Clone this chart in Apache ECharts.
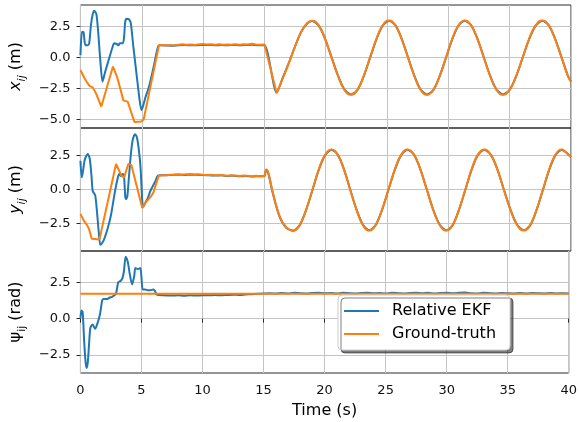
<!DOCTYPE html>
<html>
<head>
<meta charset="utf-8">
<script src="https://cdn.jsdelivr.net/npm/echarts@6/dist/echarts.min.js"></script>
<style>html,body{margin:0;padding:0;background:#fff;}#c{width:580px;height:422px;}</style>
</head>
<body>
<div id="c"></div>
<script>
// ---- data (time in s, value) ----
const xTicks = [0, 5, 10, 15, 20, 25, 30, 35, 40];
const yTicksTop = [-5, -2.5, 0, 2.5];
const yTicksMid = [-2.5, 0, 2.5];
const yTicksBot = [-2.5, 0, 2.5];

// x_ij ground truth (piecewise-linear part, then smooth sinusoid part)
const xGtEarly = [[0,-1.0],[0.3,-1.6],[0.5,-1.95],[0.75,-2.3],[1.0,-2.4],[1.25,-2.85],[1.7,-3.95],[2.65,-0.72],[3.0,-1.6],[3.5,-3.45],[3.85,-3.55],[4.4,-5.2],[4.95,-5.15],[5.15,-5.0],[6.4,1.0],[6.7,1.03],[7.0,0.99],[7.3,1.02],[7.6,1.0],[8.0,1.05],[8.3,1.08],[8.6,1.04],[9.0,1.06],[9.3,1.03],[9.6,1.07],[10.0,1.1],[10.3,1.06],[10.6,1.08],[11.0,1.05],[11.3,1.08],[11.6,1.05],[12.0,1.07],[12.3,1.05],[12.6,1.09],[13.0,1.05],[13.3,1.08],[13.6,1.06],[14.0,1.12],[14.3,1.07],[14.6,1.05],[15.0,1.06],[16.0,-2.87]];
const xGtLate = [[16.0,-2.87],[16.5,-1.66],[17.0,-0.43],[17.5,0.89],[18.0,2.1],[18.5,2.8],[18.9,2.98],[19.43,2.6],[19.95,1.5],[20.48,0],[21.01,-1.5],[21.53,-2.6],[22.06,-3.0],[22.58,-2.6],[23.09,-1.5],[23.61,0],[24.13,1.5],[24.64,2.6],[25.16,3.0],[25.68,2.6],[26.19,1.5],[26.71,0],[27.23,-1.5],[27.74,-2.6],[28.26,-3.0],[28.77,-2.6],[29.28,-1.5],[29.8,0],[30.31,1.5],[30.82,2.6],[31.33,3.0],[31.85,2.6],[32.37,1.5],[32.89,0],[33.41,-1.5],[33.93,-2.6],[34.45,-3.0],[34.98,-2.6],[35.52,-1.5],[36.05,0],[36.58,1.5],[37.12,2.6],[37.65,3.0],[38.18,2.6],[38.7,1.5],[39.23,0],[39.75,-1.5],[40,-1.95]];
// x_ij relative EKF
const xEkf = [[0,0.2],[0.12,2.1],[0.25,2.05],[0.4,1.0],[0.6,1.0],[0.72,1.2],[0.85,2.6],[1.0,3.5],[1.13,3.78],[1.3,3.5],[1.45,2.0],[1.6,0.0],[1.8,-1.93],[2.0,-1.2],[2.34,-0.05],[2.6,0.8],[2.75,1.16],[2.95,1.1],[3.1,1.0],[3.2,1.16],[3.45,1.16],[3.55,1.6],[3.65,2.9],[3.75,3.15],[3.95,3.1],[4.1,2.8],[4.3,1.0],[4.5,-0.72],[4.69,-2.34],[4.85,-3.6],[4.98,-4.22],[5.3,-3.2],[5.6,-2.3],[6.0,-0.6],[6.35,0.95],[6.6,1.0],[7.0,0.98],[7.5,0.96],[8.0,1.0],[8.5,1.02],[9.0,1.0],[9.5,1.0],[10.0,1.03],[10.5,1.02],[11.0,1.0],[11.5,1.02],[12.0,1.0],[12.5,1.03],[13.0,1.0],[13.5,1.02],[14.0,1.04],[14.5,1.0],[15.0,1.0],[16.0,-2.82],[16.5,-1.62],[17.0,-0.4],[17.5,0.92],[18.0,2.08],[18.5,2.78],[18.9,2.96],[19.43,2.58],[19.95,1.52],[20.48,0.02],[21.01,-1.48],[21.53,-2.58],[22.06,-2.97],[22.58,-2.62],[23.09,-1.52],[23.61,-0.02],[24.13,1.48],[24.64,2.58],[25.16,2.97],[25.68,2.62],[26.19,1.53],[26.71,0.03],[27.23,-1.47],[27.74,-2.58],[28.26,-2.97],[28.77,-2.62],[29.28,-1.53],[29.8,-0.03],[30.31,1.47],[30.82,2.58],[31.33,2.98],[31.85,2.62],[32.37,1.53],[32.89,0.03],[33.41,-1.47],[33.93,-2.58],[34.45,-2.97],[34.98,-2.62],[35.52,-1.53],[36.05,-0.03],[36.58,1.47],[37.12,2.58],[37.65,2.97],[38.18,2.62],[38.7,1.53],[39.23,0.03],[39.75,-1.47],[40,-1.92]];

// y_ij ground truth
const yGtEarly = [[0,-1.78],[0.27,-2.27],[0.54,-2.6],[0.7,-2.9],[0.92,-3.6],[1.55,-3.65],[2.9,1.88],[3.35,1.0],[3.56,0.9],[3.9,1.88],[4.15,1.8],[5.04,-1.34],[5.3,-0.95],[5.55,-0.7],[5.75,-0.5],[5.95,-0.2],[6.38,1.02],[6.7,1.06],[7.0,1.05],[7.3,1.09],[7.6,1.1],[8.0,1.12],[8.3,1.09],[8.6,1.12],[9.0,1.15],[9.3,1.11],[9.6,1.13],[10.0,1.1],[10.3,1.08],[10.6,1.1],[11.0,1.05],[11.3,1.08],[11.6,1.06],[12.0,1.02],[12.3,1.05],[12.6,1.04],[13.0,1.0],[13.3,1.03],[13.6,1.01],[14.0,0.98],[14.3,1.01],[14.6,0.99],[15.0,1.0],[15.14,1.51]];
const yGtLate = [[15.14,1.51],[15.3,1.3],[15.68,-0.2],[16.22,-1.9],[16.76,-2.75],[17.35,-3.0],[17.87,-2.6],[18.39,-1.5],[18.91,-0.03],[19.43,1.47],[19.95,2.55],[20.47,2.95],[20.98,2.55],[21.49,1.47],[22.0,-0.03],[22.52,-1.5],[23.03,-2.6],[23.54,-3.0],[24.06,-2.6],[24.58,-1.5],[25.1,-0.03],[25.63,1.47],[26.15,2.55],[26.67,2.95],[27.2,2.55],[27.72,1.47],[28.25,-0.03],[28.77,-1.5],[29.3,-2.6],[29.82,-3.0],[30.34,-2.6],[30.85,-1.5],[31.37,-0.03],[31.89,1.47],[32.4,2.55],[32.92,2.95],[33.46,2.55],[34.0,1.47],[34.53,-0.03],[35.07,-1.5],[35.61,-2.6],[36.15,-3.0],[36.67,-2.6],[37.18,-1.5],[37.7,-0.03],[38.22,1.47],[38.73,2.55],[39.25,2.95],[39.62,2.7],[40,2.36]];
// y_ij relative EKF
const yEkf = [[0,2.12],[0.1,0.9],[0.2,1.3],[0.35,2.2],[0.59,2.61],[0.75,2.3],[0.9,1.0],[1.0,-0.1],[1.2,-0.4],[1.35,-1.66],[1.5,-3.2],[1.62,-4.05],[1.85,-3.8],[2.2,-2.9],[2.48,-1.9],[2.8,-0.2],[3.02,0.78],[3.15,1.15],[3.3,1.0],[3.45,1.15],[3.55,1.0],[3.65,-0.5],[3.72,-0.68],[3.82,-0.5],[3.96,1.02],[4.1,2.5],[4.25,3.6],[4.45,4.07],[4.6,3.85],[4.75,3.0],[4.9,1.6],[5.05,-1.0],[5.12,-1.25],[5.3,-0.95],[5.5,-0.6],[5.7,-0.1],[5.96,0.36],[6.1,0.6],[6.3,1.02],[6.6,1.05],[7.0,1.06],[7.5,1.08],[8.0,1.1],[8.5,1.08],[9.0,1.1],[9.5,1.09],[10.0,1.07],[10.5,1.05],[11.0,1.03],[11.5,1.05],[12.0,1.0],[12.5,1.02],[13.0,0.98],[13.5,1.0],[14.0,0.96],[14.5,0.98],[15.0,1.0],[15.14,1.45],[15.3,1.25],[15.68,-0.25],[16.22,-1.95],[16.76,-2.78],[17.35,-3.02],[17.87,-2.62],[18.39,-1.52],[18.91,-0.05],[19.43,1.45],[19.95,2.53],[20.47,2.93],[20.98,2.57],[21.49,1.49],[22.0,-0.01],[22.52,-1.48],[23.03,-2.58],[23.54,-2.98],[24.06,-2.62],[24.58,-1.52],[25.1,-0.05],[25.63,1.45],[26.15,2.53],[26.67,2.93],[27.2,2.57],[27.72,1.49],[28.25,-0.01],[28.77,-1.48],[29.3,-2.58],[29.82,-2.98],[30.34,-2.62],[30.85,-1.52],[31.37,-0.05],[31.89,1.45],[32.4,2.53],[32.92,2.93],[33.46,2.57],[34.0,1.49],[34.53,-0.01],[35.07,-1.48],[35.61,-2.58],[36.15,-2.98],[36.67,-2.62],[37.18,-1.52],[37.7,-0.05],[38.22,1.45],[38.73,2.53],[39.25,2.93],[39.62,2.72],[40,2.38]];

// psi_ij
const psiGt = [[0,1.71],[40,1.71]];
const psiEkf = [[0,0.05],[0.08,0.55],[0.18,0.45],[0.3,-1.5],[0.42,-3.0],[0.51,-3.38],[0.6,-3.0],[0.7,-1.8],[0.81,-0.64],[1.0,-0.4],[1.2,-0.7],[1.4,-0.3],[1.6,0.3],[1.8,1.3],[2.0,1.35],[2.2,1.35],[2.4,1.45],[2.6,1.5],[2.9,1.7],[3.1,2.5],[3.3,2.6],[3.45,2.8],[3.56,3.25],[3.7,4.25],[3.8,4.1],[3.9,3.8],[4.05,3.0],[4.23,2.35],[4.4,2.9],[4.5,3.47],[4.7,3.4],[4.9,3.47],[5.0,2.8],[5.1,2.0],[5.3,2.0],[5.5,1.95],[5.7,1.95],[5.95,2.0],[6.1,1.9],[6.25,1.65],[6.8,1.6],[7.5,1.58],[8.0,1.6],[8.5,1.57],[9.0,1.6],[9.5,1.58],[10.0,1.6],[10.5,1.6],[11.0,1.62],[11.5,1.6],[12.0,1.62],[12.5,1.64],[13.0,1.62],[13.5,1.65],[14.0,1.68],[14.5,1.7],[15.0,1.72],[15.5,1.74],[16.0,1.72],[16.5,1.75],[17.0,1.73],[17.5,1.77],[18.0,1.74],[18.5,1.72],[19.0,1.76],[19.5,1.77],[20.0,1.74],[20.5,1.76],[21.0,1.73],[21.5,1.77],[22.0,1.75],[22.5,1.73],[23.0,1.76],[23.5,1.78],[24.0,1.74],[24.5,1.76],[25.0,1.73],[25.5,1.77],[26.0,1.75],[26.5,1.72],[27.0,1.76],[27.5,1.78],[28.0,1.74],[28.5,1.77],[29.0,1.73],[29.5,1.76],[30.0,1.78],[30.5,1.74],[31.0,1.77],[31.5,1.79],[32.0,1.75],[32.5,1.73],[33.0,1.77],[33.5,1.75],[34.0,1.72],[34.5,1.76],[35.0,1.74],[35.5,1.72],[36.0,1.75],[36.5,1.73],[37.0,1.76],[37.5,1.74],[38.0,1.72],[38.5,1.75],[39.0,1.73],[39.5,1.74],[40,1.72]];

const BLUE = '#1f77b4', ORANGE = '#ff7f0e';
const FONT = 'DejaVu Sans';
const fmt = v => (v < 0 ? '\u2212' : '') + Math.abs(v).toFixed(1);

const grids = [
  {left: 76, top: 5, width: 495, height: 123},
  {left: 76, top: 128, width: 495, height: 123},
  {left: 76, top: 251, width: 495, height: 122}
].map(g => Object.assign(g, {show: true, borderColor: '#2b2b2b', borderWidth: 1, backgroundColor: 'transparent', containLabel: false}));

const gridLine = {show: true, lineStyle: {color: '#c4c4c4', width: 1}};
const nameRich = {
  it: {fontFamily: FONT, fontSize: 16, fontStyle: 'italic', color: '#000', lineHeight: 24},
  up: {fontFamily: FONT, fontSize: 16, color: '#000', lineHeight: 24},
  si: {fontFamily: FONT, fontSize: 11, fontStyle: 'italic', color: '#000', lineHeight: 12, verticalAlign: 'bottom'},
  su: {fontFamily: FONT, fontSize: 11, color: '#000', lineHeight: 12, verticalAlign: 'bottom'}
};

function xAxis(i, labels) {
  return {
    type: 'value', gridIndex: i, min: 0, max: 40, interval: 5,
    axisLine: {show: false},
    axisTick: {show: labels, length: 4, lineStyle: {color: '#2b2b2b'}},
    axisLabel: {show: labels, margin: 11, fontFamily: FONT, fontSize: 13, color: '#111',
      formatter: v => String(v)},
    splitLine: gridLine,
    name: labels ? 'Time (s)' : '', nameLocation: 'middle', nameGap: 30,
    nameTextStyle: {fontFamily: FONT, fontSize: 16, color: '#000'}
  };
}
function yAxis(i, min, max, ticks, name) {
  return {
    type: 'value', gridIndex: i, min: min, max: max,
    axisLine: {show: false},
    axisTick: {show: true, length: 4, customValues: ticks, lineStyle: {color: '#2b2b2b'}},
    axisLabel: {show: true, margin: 10, customValues: ticks, fontFamily: FONT, fontSize: 13, color: '#111', formatter: fmt},
    splitLine: gridLine,
    name: name, nameLocation: 'middle', nameRotate: 90, nameGap: 49,
    nameTextStyle: {rich: nameRich}
  };
}

function line(name, color, data, xi, smooth) {
  return {
    type: 'line', name: name, data: data, xAxisIndex: xi, yAxisIndex: xi,
    showSymbol: false, symbol: 'none', smooth: smooth,
    lineStyle: {color: color, width: 2}, itemStyle: {color: color},
    emphasis: {disabled: true}, animation: false
  };
}

const chart = echarts.init(document.getElementById('c'), null, {renderer: 'canvas'});
chart.setOption({
  animation: false,
  backgroundColor: '#fff',
  grid: grids,
  xAxis: [xAxis(0, false), xAxis(1, false), xAxis(2, true)],
  yAxis: [
    yAxis(0, -5.68, 4.25, yTicksTop, '{it|x}{si|ij}{up| (m)}'),
    yAxis(1, -4.5, 4.52, yTicksMid, '{it|y}{si|ij}{up| (m)}'),
    yAxis(2, -3.73, 4.64, yTicksBot, '{up|\u03c8}{su|ij}{up| (rad)}')
  ],
  legend: {
    data: ['Relative EKF', 'Ground-truth'],
    orient: 'vertical', left: 338, top: 295,
    icon: 'rect', itemWidth: 35, itemHeight: 2, itemGap: 7,
    padding: [8, 14, 8, 6],
    backgroundColor: '#fff', borderColor: '#cccccc', borderWidth: 1, borderRadius: 4,
    shadowColor: 'rgba(0,0,0,0.5)', shadowBlur: 0, shadowOffsetX: 3, shadowOffsetY: 3,
    textStyle: {fontFamily: FONT, fontSize: 16, color: '#000', lineHeight: 16, padding: [0, 0, 0, 8]},
    selectedMode: false
  },
  series: [
    line('Relative EKF', BLUE, xEkf, 0, 0.25),
    line('Ground-truth', ORANGE, xGtEarly, 0, false),
    line('Ground-truth', ORANGE, xGtLate, 0, 0.5),
    line('Relative EKF', BLUE, yEkf, 1, 0.25),
    line('Ground-truth', ORANGE, yGtEarly, 1, false),
    line('Ground-truth', ORANGE, yGtLate, 1, 0.5),
    line('Relative EKF', BLUE, psiEkf, 2, 0.25),
    line('Ground-truth', ORANGE, psiGt, 2, false)
  ]
});
</script>
</body>
</html>
